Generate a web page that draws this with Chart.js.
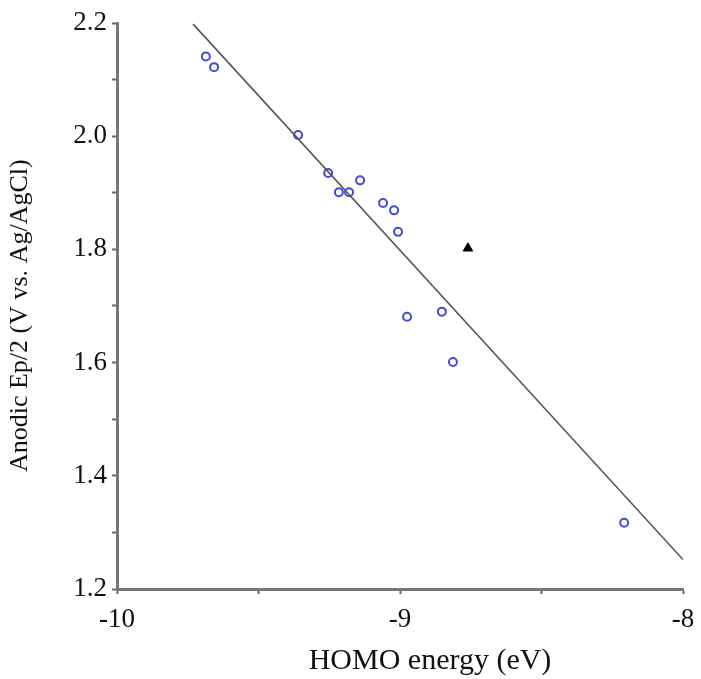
<!DOCTYPE html>
<html>
<head>
<meta charset="utf-8">
<script src="https://cdn.jsdelivr.net/npm/chart.js@4"></script>
<style>
  html, body { margin: 0; padding: 0; background: #fff; }
  #wrap { width: 701px; height: 679px; }
</style>
</head>
<body>
<div id="wrap"><canvas id="chart" width="701" height="679"></canvas></div>
<script>
// measured compounds (HOMO energy vs anodic Ep/2)
const homoX = [-9.686, -9.657, -9.360, -9.254, -9.216, -9.180, -9.141, -9.060, -9.021, -9.007, -8.975, -8.852, -8.813, -8.208];
const ep2Y  = [2.141, 2.122, 2.002, 1.935, 1.901, 1.901, 1.922, 1.882, 1.869, 1.831, 1.681, 1.690, 1.601, 1.317];
// outlier shown as black triangle
const outlierX = [-8.760];
const outlierY = [1.802];
// regression line endpoints
const fitX = [-9.731, -8.0];
const fitY = [2.198, 1.252];

const xTicks = [-10, -9.5, -9, -8.5, -8];
const xLabels = ['-10', '', '-9', '', '-8'];

const toPts = (xs, ys) => xs.map((x, i) => ({ x: x, y: ys[i] }));
const serif = "'Liberation Serif', 'Times New Roman', serif";

new Chart('chart', {
  type: 'scatter',
  data: {
    datasets: [
      {
        type: 'line',
        data: toPts(fitX, fitY),
        borderColor: '#555',
        borderWidth: 1.6,
        pointRadius: 0,
        fill: false
      },
      {
        data: toPts(homoX, ep2Y),
        pointStyle: 'circle',
        pointRadius: 4,
        pointBorderWidth: 2,
        borderColor: '#4848dc',
        backgroundColor: '#fff'
      },
      {
        data: toPts(outlierX, outlierY),
        pointStyle: 'triangle',
        pointRadius: 5.5,
        borderColor: '#000',
        backgroundColor: '#000'
      }
    ]
  },
  options: {
    responsive: false,
    animation: false,
    layout: { padding: { top: 23, right: 18, left: 0, bottom: 0 } },
    plugins: { legend: { display: false }, tooltip: { enabled: false } },
    scales: {
      x: {
        type: 'linear',
        min: -10,
        max: -8,
        afterBuildTicks: s => { s.ticks = xTicks.map(v => ({ value: v })); },
        afterFit: s => { s.height = 90; s.paddingLeft = 0; s.paddingRight = 0; },
        grid: { drawOnChartArea: false, tickLength: 5, tickColor: '#666', tickWidth: 2 },
        border: { display: true, color: '#777', width: 3 },
        ticks: {
          color: '#111',
          font: { family: serif, size: 27 },
          padding: 10,
          maxRotation: 0,
          callback: (v, i) => xLabels[i]
        },
        title: {
          display: true,
          text: '        HOMO energy (eV)',
          color: '#111',
          font: { family: serif, size: 30 },
          padding: { top: 8, bottom: 0 }
        }
      },
      y: {
        type: 'linear',
        min: 1.2,
        max: 2.2,
        afterFit: s => { s.width = 117; s.paddingTop = 0; s.paddingBottom = 0; },
        grid: { drawOnChartArea: false, tickLength: 5, tickColor: '#666', tickWidth: 2 },
        border: { display: true, color: '#777', width: 3 },
        ticks: {
          stepSize: 0.1,
          color: '#111',
          font: { family: serif, size: 27 },
          padding: 5,
          callback: v => {
            const k = Math.round(v * 10);
            return k % 2 === 0 ? (k / 10).toFixed(1) : '';
          }
        },
        title: {
          display: true,
          text: 'Anodic Ep/2 (V vs. Ag/AgCl)   ',
          color: '#111',
          font: { family: serif, size: 26 },
          padding: { top: 5, bottom: 4 }
        }
      }
    }
  }
});
</script>
</body>
</html>
